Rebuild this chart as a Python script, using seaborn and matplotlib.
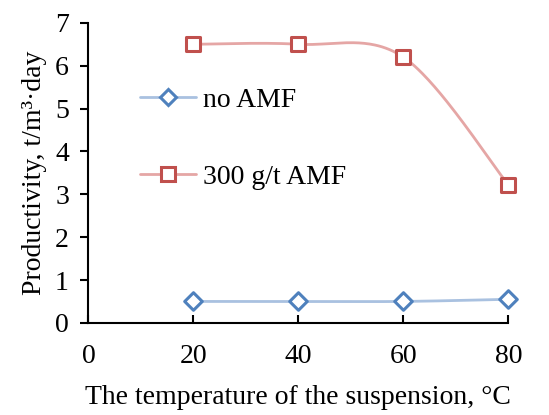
import numpy as np
import pandas as pd
import matplotlib
matplotlib.use("Agg")
import matplotlib.pyplot as plt
from matplotlib.lines import Line2D
import seaborn as sns

# Données
temperature = [20, 40, 60, 80]
no_amf = [0.50, 0.50, 0.50, 0.55]
amf_300 = [6.50, 6.50, 6.20, 3.22]
series_labels = ["no AMF", "300 g/t AMF"]
x_ticks = [0, 20, 40, 60, 80]
y_ticks = [0, 1, 2, 3, 4, 5, 6, 7]


def excel_smooth(xs, ys, n=60):
    """Courbe lissée façon Excel (Bézier, tension 1/6)"""
    pts = np.column_stack([xs, ys]).astype(float)
    out = []
    for i in range(len(pts) - 1):
        p0 = pts[max(i - 1, 0)]
        p1 = pts[i]
        p2 = pts[i + 1]
        p3 = pts[min(i + 2, len(pts) - 1)]
        c1 = p1 + (p2 - p0) / 6
        c2 = p2 - (p3 - p1) / 6
        t = np.linspace(0, 1, n)[:, None]
        seg = ((1 - t) ** 3) * p1 + 3 * ((1 - t) ** 2) * t * c1 + 3 * (1 - t) * t ** 2 * c2 + t ** 3 * p2
        out.append(seg if i == 0 else seg[1:])
    seg = np.vstack(out)
    return pd.DataFrame({"x": seg[:, 0], "y": seg[:, 1]})


sns.set_style("ticks")
plt.rcParams['font.family'] = ['Liberation Serif', 'DejaVu Serif']
plt.rcParams['text.color'] = 'black'
plt.rcParams['axes.labelcolor'] = 'black'
plt.rcParams['xtick.color'] = 'black'
plt.rcParams['ytick.color'] = 'black'

fig = plt.figure(figsize=(5.49, 4.15), dpi=100)
ax = fig.add_axes([0.161, 0.222, 0.765, 0.723])

blue_edge, blue_line = "#4F81BD", "#A9C1E0"
red_edge, red_line = "#C0504D", "#E5A6A5"

sns.lineplot(data=excel_smooth(temperature, no_amf), x="x", y="y", sort=False,
             estimator=None, color=blue_line, linewidth=2, ax=ax)
sns.lineplot(data=excel_smooth(temperature, amf_300), x="x", y="y", sort=False,
             estimator=None, color=red_line, linewidth=2, ax=ax)
sns.scatterplot(x=temperature, y=no_amf, marker="D", s=80, facecolor="white",
                edgecolor=blue_edge, linewidth=2.2, ax=ax, zorder=3, clip_on=False)
sns.scatterplot(x=temperature, y=amf_300, marker="s", s=115, facecolor="white",
                edgecolor=red_edge, linewidth=2.2, ax=ax, zorder=3, clip_on=False)

ax.set_xlim(0, 80)
ax.set_ylim(0, 7)
ax.set_xticks(x_ticks)
ax.set_yticks(y_ticks)
ax.tick_params(axis="x", direction="in", length=6, width=1.5, pad=15, labelsize=20)
ax.tick_params(axis="y", direction="out", length=6, width=1.5, pad=8, labelsize=20)
for side in ["left", "bottom"]:
    ax.spines[side].set_linewidth(1.5)
    ax.spines[side].set_color("black")
sns.despine(ax=ax)

ax.set_xlabel("The temperature of the suspension, °C", fontsize=20, labelpad=12)
ax.set_ylabel("Productivity, t/m³·day", fontsize=20, labelpad=6)

handles = [
    Line2D([0], [0], color=blue_line, linewidth=2, marker="D", markersize=8,
           markerfacecolor="white", markeredgecolor=blue_edge, markeredgewidth=2.2),
    Line2D([0], [0], color=red_line, linewidth=2, marker="s", markersize=10,
           markerfacecolor="white", markeredgecolor=red_edge, markeredgewidth=2.2),
]
ax.legend(handles, series_labels, loc="upper left", bbox_to_anchor=(0.124, 0.785),
          frameon=False, fontsize=20, handlelength=2.0, handletextpad=0.25,
          labelspacing=1.85, borderpad=0, borderaxespad=0)

fig.savefig("out.png", dpi=100)
